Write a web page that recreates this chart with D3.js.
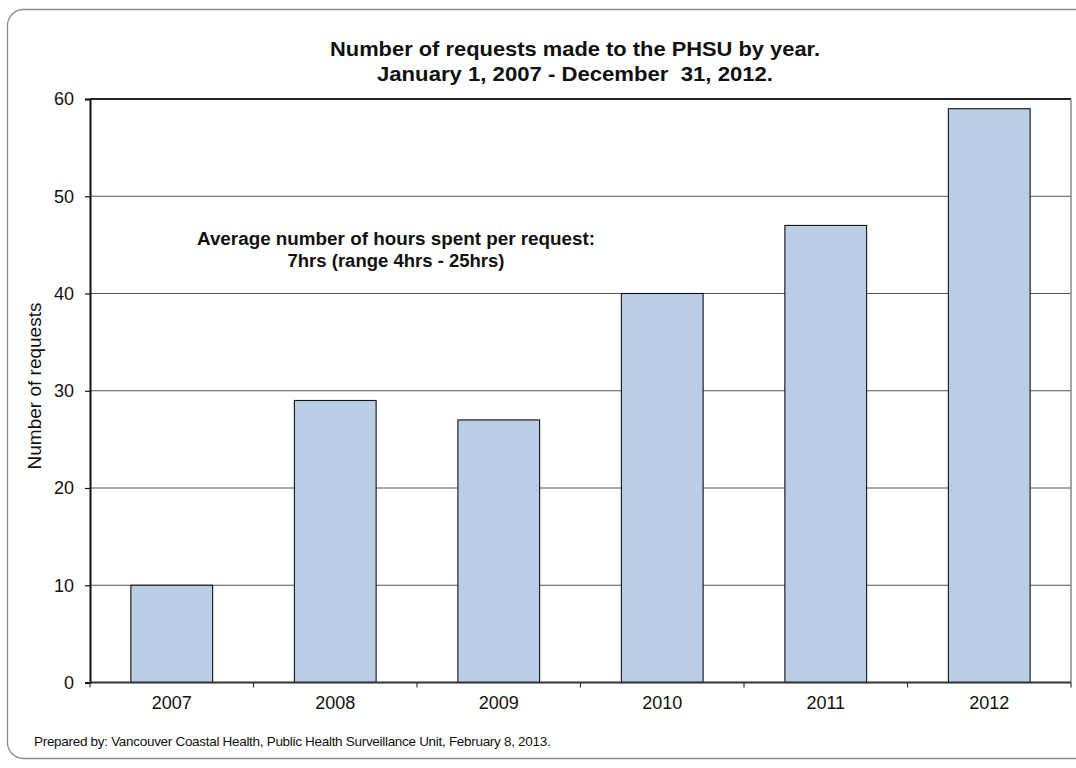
<!DOCTYPE html>
<html><head><meta charset="utf-8">
<script src="https://cdn.jsdelivr.net/npm/d3@7"></script>
<style>body{margin:0;background:#fff;} svg{display:block;font-family:"Liberation Sans",Arial,sans-serif;}</style>
</head><body>
<svg id="c" width="1076" height="768"></svg>
<script>
const categories = ["2007","2008","2009","2010","2011","2012"];
const requests = [10, 29, 27, 40, 47, 59];
const yTicks = [0,10,20,30,40,50,60];
const titleLines = ["Number of requests made to the PHSU by year.","January 1, 2007 - December  31, 2012."];
const noteLines = ["Average number of hours spent per request:","7hrs (range 4hrs - 25hrs)"];
const yLabel = "Number of requests";
const footer = "Prepared by: Vancouver Coastal Health, Public Health Surveillance Unit, February 8, 2013.";

const svg = d3.select("#c");
const m = {l:90, r:1071, t:99, b:682.5};
svg.append("rect").attr("x",7.5).attr("y",9.5).attr("width",1090).attr("height",749).attr("rx",16)
  .attr("fill","none").attr("stroke","#8c8c8c").attr("stroke-width",1.3);

const x = d3.scaleBand().domain(categories).range([m.l,m.r]).paddingInner(0.5).paddingOuter(0.25);
const xb = d3.scaleBand().domain(categories).range([m.l,m.r]);
const y = d3.scaleLinear().domain([0,60]).range([m.b,m.t]);

svg.append("g").selectAll("line").data(yTicks.filter(d=>d>0)).join("line")
  .attr("x1",m.l).attr("x2",m.r).attr("y1",d=>y(d)).attr("y2",d=>y(d))
  .attr("stroke",d=>d===60?"#222":"#555").attr("stroke-width",d=>d===60?2:1.2);
svg.append("line").attr("x1",m.r).attr("x2",m.r).attr("y1",m.t).attr("y2",m.b)
  .attr("stroke","#777").attr("stroke-width",1.3);

svg.append("g").selectAll("rect").data(requests).join("rect")
  .attr("x",(d,i)=>x(categories[i])).attr("width",x.bandwidth())
  .attr("y",d=>y(d)).attr("height",d=>y(0)-y(d))
  .attr("fill","#b9cde5").attr("stroke","#111").attr("stroke-width",1.1);

const ya = svg.append("g").attr("transform",`translate(${m.l},0)`)
  .call(d3.axisLeft(y).tickValues(yTicks).tickSize(5).tickPadding(11));
ya.attr("font-size",null).attr("font-family",null);
ya.select(".domain").attr("stroke","#111").attr("stroke-width",2);
ya.selectAll(".tick line").attr("stroke","#111").attr("stroke-width",1.2);
ya.selectAll("text").style("font-size","18px").attr("fill","#111");

const xa = svg.append("g").attr("transform",`translate(0,${m.b})`)
  .call(d3.axisBottom(xb).tickSize(0).tickPadding(14));
xa.attr("font-size",null).attr("font-family",null);
xa.select(".domain").attr("stroke","#333").attr("stroke-width",2).attr("d",`M${m.l},0H${m.r}`);
xa.selectAll("text").style("font-size","18px").attr("fill","#111");
svg.append("g").selectAll("line").data(categories.concat(["end"])).join("line")
  .attr("x1",(d,i)=>i<categories.length? xb(d): m.r).attr("x2",(d,i)=>i<categories.length? xb(d): m.r)
  .attr("y1",m.b).attr("y2",m.b+5).attr("stroke","#333").attr("stroke-width",1.2);

const titleW = [490, 396];
svg.append("g").selectAll("text").data(titleLines).join("text")
  .attr("x",575).attr("y",(d,i)=>56+i*25).attr("text-anchor","middle")
  .attr("font-size",21).attr("font-weight","bold").attr("fill","#111")
  .attr("textLength",(d,i)=>titleW[i]).attr("lengthAdjust","spacingAndGlyphs")
  .style("white-space","pre").text(d=>d);

const noteW = [398, 217];
svg.append("g").selectAll("text").data(noteLines).join("text")
  .attr("x",396).attr("y",(d,i)=>245+i*22).attr("text-anchor","middle")
  .attr("font-size",17.5).attr("font-weight","bold").attr("fill","#111")
  .attr("textLength",(d,i)=>noteW[i]).attr("lengthAdjust","spacingAndGlyphs").text(d=>d);

svg.append("text").attr("transform","translate(41,386) rotate(-90)").attr("text-anchor","middle")
  .attr("font-size",19).attr("fill","#111").text(yLabel);

svg.append("text").attr("x",34).attr("y",746).attr("font-size",13.5).attr("letter-spacing",-0.3)
  .attr("fill","#111").text(footer);
</script>
</body></html>
